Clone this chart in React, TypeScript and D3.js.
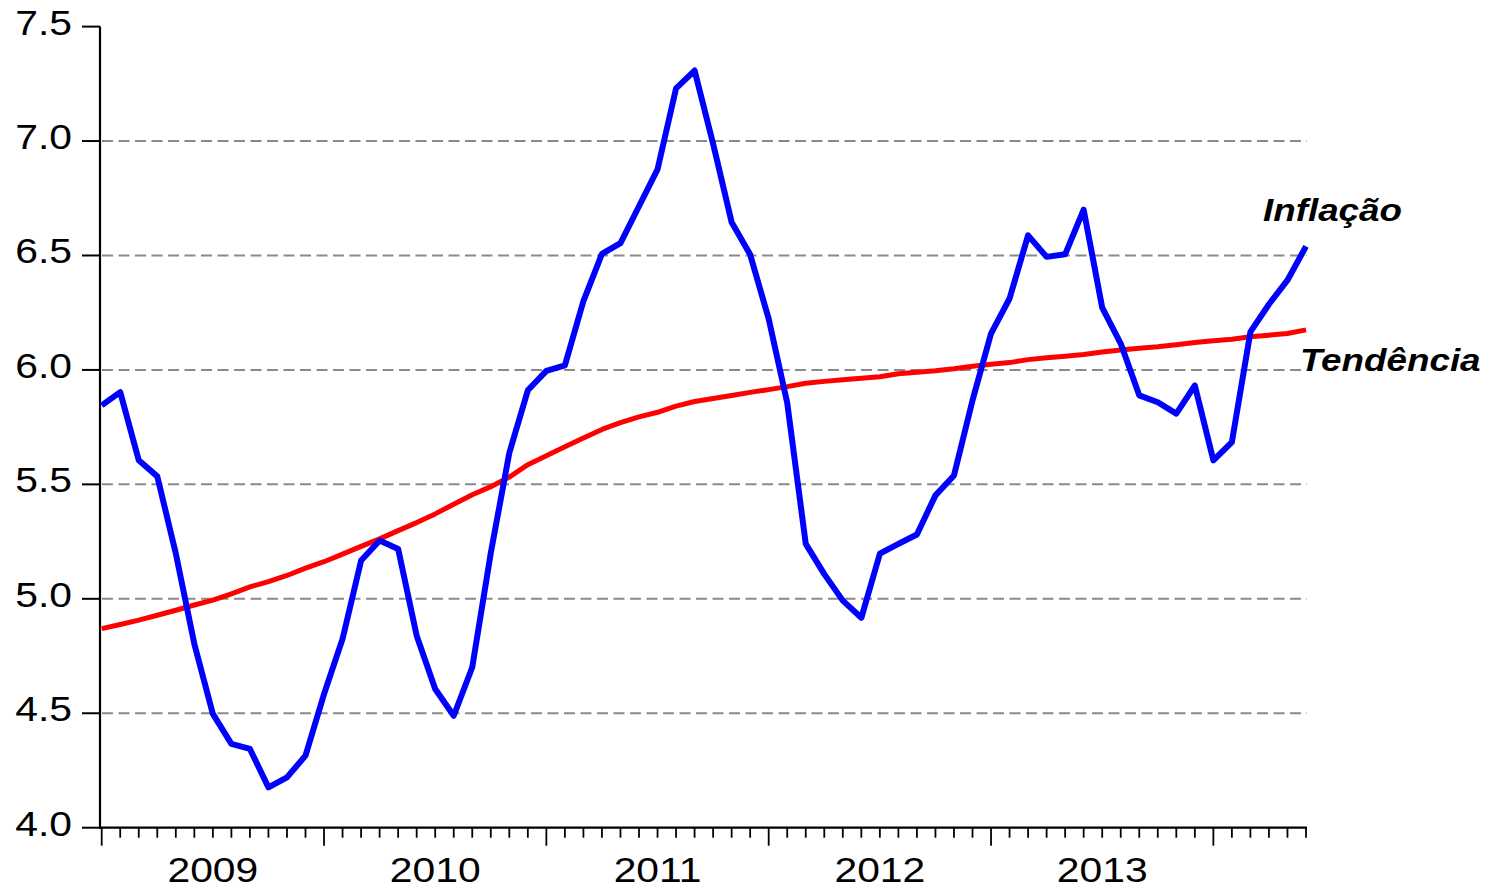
import React from "react";
import * as d3 from "d3";

// Monthly observations Jan 2009 – Jun 2014
const inflacao: number[] = [
  5.845, 5.903, 5.605, 5.535, 5.198, 4.803, 4.497, 4.366, 4.344, 4.176, 4.22, 4.315,
  4.584, 4.825, 5.167, 5.255, 5.218, 4.839, 4.606, 4.489, 4.701, 5.2, 5.637, 5.911,
  5.996, 6.02, 6.301, 6.507, 6.554, 6.715, 6.876, 7.23, 7.308, 6.988, 6.645, 6.504,
  6.223, 5.856, 5.24, 5.108, 4.992, 4.917, 5.197, 5.24, 5.281, 5.452, 5.539, 5.867,
  6.159, 6.312, 6.588, 6.494, 6.505, 6.7, 6.272, 6.115, 5.889, 5.859, 5.809, 5.932,
  5.605, 5.685, 6.166, 6.287, 6.392, 6.54,
];

const tendencia: number[] = [
  4.87, 4.888, 4.907, 4.928, 4.95, 4.973, 4.994, 5.022, 5.052, 5.075, 5.102, 5.134,
  5.162, 5.195, 5.229, 5.262, 5.298, 5.333, 5.371, 5.413, 5.455, 5.49, 5.532, 5.586,
  5.625, 5.664, 5.703, 5.74, 5.77, 5.795, 5.815, 5.842, 5.862, 5.875, 5.888, 5.902,
  5.914, 5.927, 5.942, 5.95, 5.957, 5.964, 5.97, 5.983, 5.99, 5.996, 6.005, 6.016,
  6.025, 6.032, 6.045, 6.053, 6.06, 6.067, 6.078, 6.087, 6.095, 6.101, 6.11, 6.12,
  6.127, 6.134, 6.145, 6.152, 6.159, 6.175,
];

const years: string[] = ["2009", "2010", "2011", "2012", "2013"];
const yTicks: number[] = [4.0, 4.5, 5.0, 5.5, 6.0, 6.5, 7.0, 7.5];
const gridTicks: number[] = [4.5, 5.0, 5.5, 6.0, 6.5, 7.0];
const seriesLabels: string[] = ["Inflação", "Tendência"];

export default function App() {
  const n = inflacao.length;
  const x = d3.scaleLinear().domain([0, n - 1]).range([101.7, 1306]);
  const y = d3.scaleLinear().domain([4.0, 7.5]).range([827.7, 26.6]);
  const line = d3
    .line<number>()
    .x((_, i) => x(i))
    .y((d) => y(d));

  const axisLeft = 100;
  const axisRight = 1307;
  const axisBottom = y(4.0);
  const fontFam = "'Liberation Sans', Arial, sans-serif";
  const stretch = 1.15;

  return (
    <svg
      width={1497}
      height={889}
      style={{ position: "absolute", left: 0, top: 0, background: "#fff" }}
    >
      <rect x={0} y={0} width={1497} height={889} fill="#fff" />
      {/* grid lines */}
      {gridTicks.map((t) => (
        <line
          key={"g" + t}
          x1={axisLeft + 2}
          x2={axisRight}
          y1={y(t)}
          y2={y(t)}
          stroke="#8a8a8a"
          strokeWidth={2}
          strokeDasharray="11,5.5"
        />
      ))}
      {/* y axis */}
      <line x1={axisLeft} x2={axisLeft} y1={y(7.5)} y2={axisBottom + 1} stroke="#000" strokeWidth={2.2} />
      {yTicks.map((t) => (
        <g key={"yt" + t}>
          <line x1={82} x2={axisLeft} y1={y(t)} y2={y(t)} stroke="#000" strokeWidth={2} />
          <text
            transform={`translate(72,${y(t) + 8}) scale(${stretch},1)`}
            textAnchor="end"
            fontFamily={fontFam}
            fontSize={35.5}
            fill="#000"
          >
            {t.toFixed(1)}
          </text>
        </g>
      ))}
      {/* x axis */}
      <line x1={axisLeft - 1} x2={axisRight} y1={axisBottom} y2={axisBottom} stroke="#000" strokeWidth={2.2} />
      {d3.range(n).map((i) => (
        <line
          key={"xt" + i}
          x1={x(i)}
          x2={x(i)}
          y1={axisBottom}
          y2={axisBottom + (i % 12 === 0 ? 18 : 10)}
          stroke="#000"
          strokeWidth={1.8}
        />
      ))}
      {years.map((yr, k) => (
        <text
          key={yr}
          transform={`translate(${x(k * 12 + 6)},882) scale(${stretch},1)`}
          textAnchor="middle"
          fontFamily={fontFam}
          fontSize={35.5}
          fill="#000"
        >
          {yr}
        </text>
      ))}
      {/* series */}
      <path d={line(tendencia) || ""} fill="none" stroke="#ff0000" strokeWidth={5} strokeLinejoin="round" />
      <path d={line(inflacao) || ""} fill="none" stroke="#0000ff" strokeWidth={6} strokeLinejoin="round" />
      {/* labels */}
      <text
        transform={`translate(1263,221) scale(${stretch},1)`}
        fontFamily={fontFam}
        fontSize={32}
        fontWeight="bold"
        fontStyle="italic"
        fill="#000"
      >
        {seriesLabels[0]}
      </text>
      <text
        transform={`translate(1300,371) scale(${stretch},1)`}
        fontFamily={fontFam}
        fontSize={32}
        fontWeight="bold"
        fontStyle="italic"
        fill="#000"
      >
        {seriesLabels[1]}
      </text>
    </svg>
  );
}
